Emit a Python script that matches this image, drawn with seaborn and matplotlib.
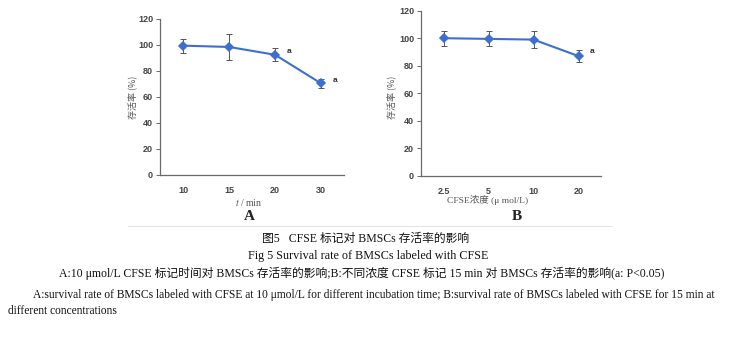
import matplotlib
matplotlib.use("Agg")
import matplotlib.pyplot as plt
import seaborn as sns
import numpy as np
import pandas as pd

# ---- data ----
a_cats = ["10", "15", "20", "30"]
a_vals = [99.5, 98.5, 92.5, 70.5]
a_errs = [5.5, 10.0, 5.0, 3.2]
a_sig = [False, False, True, True]

b_cats = ["2.5", "5", "10", "20"]
b_vals = [100.0, 99.5, 99.0, 87.0]
b_errs = [5.5, 5.4, 6.4, 4.4]
b_sig = [False, False, False, True]

y_ticks = [0, 20, 40, 60, 80, 100, 120]

sns.set_theme(style="white")
plt.rcParams["font.family"] = ["Liberation Serif", "Noto Sans CJK SC"]
plt.rcParams["mathtext.fontset"] = "stix"

W, H = 732, 340
fig = plt.figure(figsize=(W / 100, H / 100), dpi=100)
fig.patch.set_facecolor("white")

line_col = "#3d6fd1"
axis_col = "#6a6a6a"


def fx(px):
    return px / W


def fy(py):
    return 1 - py / H


def panel(rect, cats, vals, errs, sig, sig_offsets):
    ax = fig.add_axes(rect)
    df = pd.DataFrame({"x": cats, "y": vals})
    sns.pointplot(data=df, x="x", y="y", order=cats, errorbar=None,
                  color=line_col, markers="D", ax=ax,
                  linewidth=1.5, markersize=4.5)
    ax.errorbar(np.arange(len(cats)), vals, yerr=errs, fmt="none",
                ecolor="#555555", elinewidth=0.7, capsize=2.5, capthick=0.7,
                zorder=1)
    ax.set_xlim(-0.5, len(cats) - 0.5)
    ax.set_ylim(0, 120)
    ax.set_yticks(y_ticks)
    ax.set_yticklabels([str(t) for t in y_ticks], family="Liberation Sans",
                       fontsize=6.5, fontweight="bold", color="#444444")
    ax.set_xticks(np.arange(len(cats)))
    ax.set_xticklabels(cats, family="Liberation Sans", fontsize=6.5,
                       fontweight="bold", color="#444444")
    ax.set_xticks(np.arange(len(cats) + 1) - 0.5, minor=True)
    ax.tick_params(axis="x", which="major", length=0, pad=8)
    ax.tick_params(axis="x", which="minor", length=3, width=0.7,
                   color=axis_col, direction="inout")
    ax.tick_params(axis="y", length=3, width=0.7, color=axis_col,
                   direction="out", pad=2, left=True)
    for s in ["top", "right"]:
        ax.spines[s].set_visible(False)
    for s in ["left", "bottom"]:
        ax.spines[s].set_color(axis_col)
        ax.spines[s].set_linewidth(0.9)
    ax.set_xlabel("")
    ax.set_ylabel("")
    ax.set_facecolor("white")
    for i, (v, e, s) in enumerate(zip(vals, errs, sig)):
        if s:
            dx, dy = sig_offsets
            ax.text(i + dx, v + dy, "a", fontsize=6, fontweight="bold",
                    family="Liberation Sans", color="#333333",
                    ha="center", va="center")
    return ax


axA = panel([fx(160), fy(175), fx(344) - fx(160), fy(19) - fy(175)],
            a_cats, a_vals, a_errs, a_sig, (0.3, 2.5))
axB = panel([fx(421), fy(175.7), fx(601) - fx(421), fy(10.7) - fy(175.7)],
            b_cats, b_vals, b_errs, b_sig, (0.3, 3.0))

# y labels
fig.text(fx(133), fy(97), "存活率 (%)", rotation=90, ha="center", va="center",
         fontsize=6.5, color="#555555", family=["Noto Sans CJK SC"])
fig.text(fx(392), fy(97), "存活率 (%)", rotation=90, ha="center", va="center",
         fontsize=6.5, color="#555555", family=["Noto Sans CJK SC"])

# x labels
fig.text(fx(249), fy(202), "$t$ / min", ha="center", va="center",
         fontsize=7, color="#555555")
fig.text(fx(488), fy(200), "CFSE浓度 (μ mol/L)", ha="center", va="center",
         fontsize=6.8, color="#555555")

# panel letters
fig.text(fx(249), fy(217), "A", ha="center", va="center", fontsize=11,
         fontweight="bold", color="#222222")
fig.text(fx(517), fy(217), "B", ha="center", va="center", fontsize=11,
         fontweight="bold", color="#222222")

# faint frame line
fig.add_artist(plt.Line2D([fx(128), fx(612)], [fy(226), fy(226)],
                          color="#e6e6e6", linewidth=0.8))

# caption
fig.text(fx(366), fy(239), "图5   CFSE 标记对 BMSCs 存活率的影响",
         ha="center", va="center", fontsize=8.5, color="#111111")
fig.text(fx(368), fy(256), "Fig 5 Survival rate of BMSCs labeled with CFSE",
         ha="center", va="center", fontsize=8.7, color="#111111")
fig.text(fx(362), fy(273),
         "A:10 μmol/L CFSE 标记时间对 BMSCs 存活率的影响;B:不同浓度 CFSE 标记 15 min 对 BMSCs 存活率的影响(a: P<0.05)",
         ha="center", va="center", fontsize=8.5, color="#111111")
fig.text(fx(33), fy(295),
         "A:survival rate of BMSCs labeled with CFSE at 10 μmol/L for different incubation time; B:survival rate of BMSCs labeled with CFSE for 15 min at",
         ha="left", va="center", fontsize=8.3, color="#111111")
fig.text(fx(8), fy(311), "different concentrations",
         ha="left", va="center", fontsize=8.3, color="#111111")

fig.savefig("out.png", dpi=100, facecolor="white")
